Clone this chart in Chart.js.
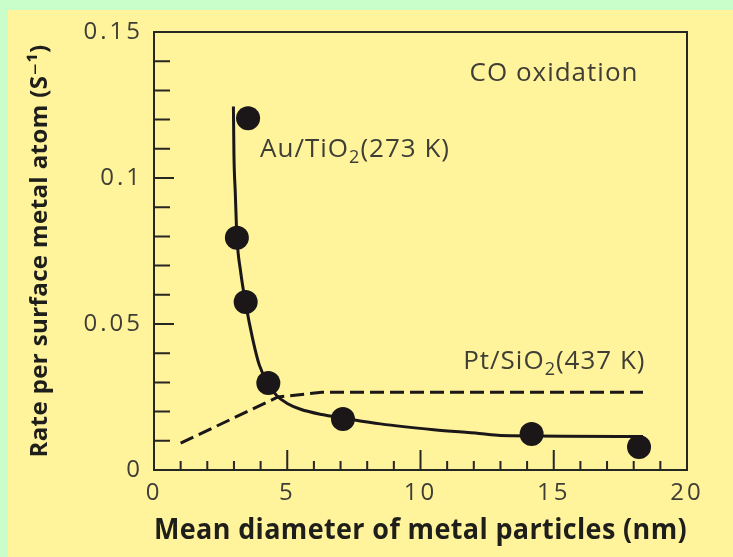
<!DOCTYPE html>
<html>
<head>
<meta charset="utf-8">
<script src="https://cdn.jsdelivr.net/npm/chart.js@4.4.1/dist/chart.umd.min.js"></script>
<style>
  html, body { margin: 0; padding: 0; background: #c9fdca; overflow: hidden; }
  canvas { display: block; }
</style>
</head>
<body>
<canvas id="c" width="733" height="557"></canvas>
<script>
// ---- data ----
const auMeasuredX = [3.53, 3.11, 3.44, 4.29, 7.09, 14.17, 18.2];
const auMeasuredY = [0.1205, 0.0795, 0.0575, 0.0298, 0.0175, 0.0123, 0.0079];

const auCurveX = [2.98, 3.0, 3.05, 3.11, 3.25, 3.44, 3.7, 3.95, 4.29, 4.6, 5.0, 5.5, 6.3, 7.1, 8.5, 10.5, 12.2, 13.0, 18.35];
const auCurveY = [0.1245, 0.108, 0.095, 0.080, 0.068, 0.057, 0.045, 0.036, 0.0295, 0.0255, 0.0228, 0.0208, 0.0190, 0.0178, 0.0158, 0.0138, 0.0125, 0.0118, 0.0115];

const ptCurveX = [1.0, 4.65, 6.3, 18.35];
const ptCurveY = [0.0092, 0.0250, 0.0266, 0.0266];

const xTickValues = [0, 5, 10, 15, 20];
const xTickLabels = ['0', '5', '10', '15', '20'];
const yTickValues = [0, 0.05, 0.1, 0.15];
const yTickLabels = ['0', '0.05', '0.1', '0.15'];

const xTitle = 'Mean diameter of metal particles (nm)';
const yTitle = 'Rate per surface metal atom (S\u207B\u00B9)';

const annotations = [
  { x: 11.84, y: 0.1357, parts: [['CO oxidation', false]] },
  { x: 3.98, y: 0.1098, parts: [['Au/TiO', false], ['2', true], ['(273 K)', false]] },
  { x: 11.6, y: 0.0371, parts: [['Pt/SiO', false], ['2', true], ['(437 K)', false]] }
];

const xMinorStep = 1;
const yMinorStep = 0.01;

// ---- build datasets ----
const toXY = (xs, ys) => xs.map((v, i) => ({ x: v, y: ys[i] }));
const INK = '#1b1719';
const LABEL = '#3e3e36';
const FONT = "'Open Sans', 'DejaVu Sans', sans-serif";

const setSpacing = (ctx, v) => { if ('letterSpacing' in ctx) ctx.letterSpacing = v; };

const framePlugin = {
  id: 'frame',
  beforeDraw(chart) {
    const ctx = chart.ctx;
    ctx.save();
    ctx.fillStyle = '#c9fdca';
    ctx.fillRect(0, 0, chart.width, chart.height);
    ctx.fillStyle = '#fff39b';
    ctx.fillRect(8, 10, chart.width - 8, chart.height - 10);
    ctx.restore();
    setSpacing(ctx, '0.4px'); // axis titles
  },
  beforeDatasetsDraw(chart) {
    const { ctx, chartArea: a, scales: { x, y } } = chart;
    ctx.save();
    ctx.strokeStyle = '#262622';
    ctx.lineWidth = 2;
    ctx.strokeRect(a.left, a.top, a.right - a.left, a.bottom - a.top);
    ctx.beginPath();
    const nx = Math.round((x.max - x.min) / xMinorStep);
    for (let i = 1; i < nx; i++) {
      const px = x.getPixelForValue(x.min + i * xMinorStep);
      const len = (i % 5 === 0) ? 20 : 9;
      ctx.moveTo(px, a.bottom);
      ctx.lineTo(px, a.bottom - len);
    }
    const ny = Math.round((y.max - y.min) / yMinorStep);
    for (let i = 1; i < ny; i++) {
      const py = y.getPixelForValue(y.min + i * yMinorStep);
      const len = (i % 5 === 0) ? 20 : 16;
      ctx.moveTo(a.left, py);
      ctx.lineTo(a.left + len, py);
    }
    ctx.stroke();
    ctx.restore();
  },
  afterDatasetsDraw(chart) {
    const { ctx, scales: { x, y } } = chart;
    ctx.save();
    setSpacing(ctx, '1px');
    ctx.fillStyle = LABEL;
    ctx.textBaseline = 'middle';
    ctx.textAlign = 'left';
    const size = 26;
    annotations.forEach(an => {
      let px = x.getPixelForValue(an.x);
      const py = y.getPixelForValue(an.y);
      an.parts.forEach(([t, sub]) => {
        ctx.font = (sub ? Math.round(size * 0.68) : size) + 'px ' + FONT;
        ctx.fillText(t, px, sub ? py + size * 0.32 : py);
        px += ctx.measureText(t).width;
      });
    });
    ctx.restore();
    setSpacing(ctx, '3px'); // tick labels (drawn after datasets, z = 1)
  },
  afterDraw(chart) {
    setSpacing(chart.ctx, '0px');
  }
};

new Chart(document.getElementById('c'), {
  type: 'scatter',
  data: {
    datasets: [
      {
        label: 'Au/TiO2 measured',
        data: toXY(auMeasuredX, auMeasuredY),
        showLine: false,
        pointRadius: 12,
        pointBackgroundColor: INK,
        pointBorderColor: INK,
        pointBorderWidth: 0,
        order: 0
      },
      {
        label: 'Au/TiO2 (273 K)',
        data: toXY(auCurveX, auCurveY),
        showLine: true,
        borderColor: INK,
        borderWidth: 3,
        pointRadius: 0,
        cubicInterpolationMode: 'monotone',
        order: 1
      },
      {
        label: 'Pt/SiO2 (437 K)',
        data: toXY(ptCurveX, ptCurveY),
        showLine: true,
        borderColor: INK,
        borderWidth: 3,
        borderDash: [14, 6],
        pointRadius: 0,
        tension: 0,
        order: 2
      }
    ]
  },
  options: {
    responsive: false,
    animation: false,
    layout: { padding: { left: 0, top: 32, right: 46, bottom: 0 } },
    plugins: { legend: { display: false }, tooltip: { enabled: false } },
    scales: {
      x: {
        type: 'linear',
        min: 0, max: 20,
        grid: { display: false, drawTicks: false },
        border: { display: false },
        afterBuildTicks: s => { s.ticks = xTickValues.map(v => ({ value: v })); },
        afterFit: s => { s.height = 87; },
        ticks: {
          z: 1,
          padding: 9,
          color: LABEL,
          font: { family: FONT, size: 24 },
          maxRotation: 0,
          autoSkip: false,
          callback: (v, i) => xTickLabels[i]
        },
        title: {
          display: true,
          text: xTitle,
          color: '#1e1e1a',
          font: { family: FONT, size: 28, weight: 'bold' },
          padding: { top: 0, bottom: 9 }
        }
      },
      y: {
        type: 'linear',
        min: 0, max: 0.15,
        grid: { display: false, drawTicks: false },
        border: { display: false },
        afterBuildTicks: s => { s.ticks = yTickValues.map(v => ({ value: v })); },
        afterFit: s => { s.width = 154; },
        ticks: {
          z: 1,
          padding: 11,
          color: LABEL,
          font: { family: FONT, size: 24 },
          autoSkip: false,
          callback: (v, i) => yTickLabels[i]
        },
        title: {
          display: true,
          text: yTitle,
          color: '#1e1e1a',
          font: { family: FONT, size: 24, weight: 'bold' },
          padding: { top: 26, bottom: 0 }
        }
      }
    }
  },
  plugins: [framePlugin]
});
</script>
</body>
</html>
